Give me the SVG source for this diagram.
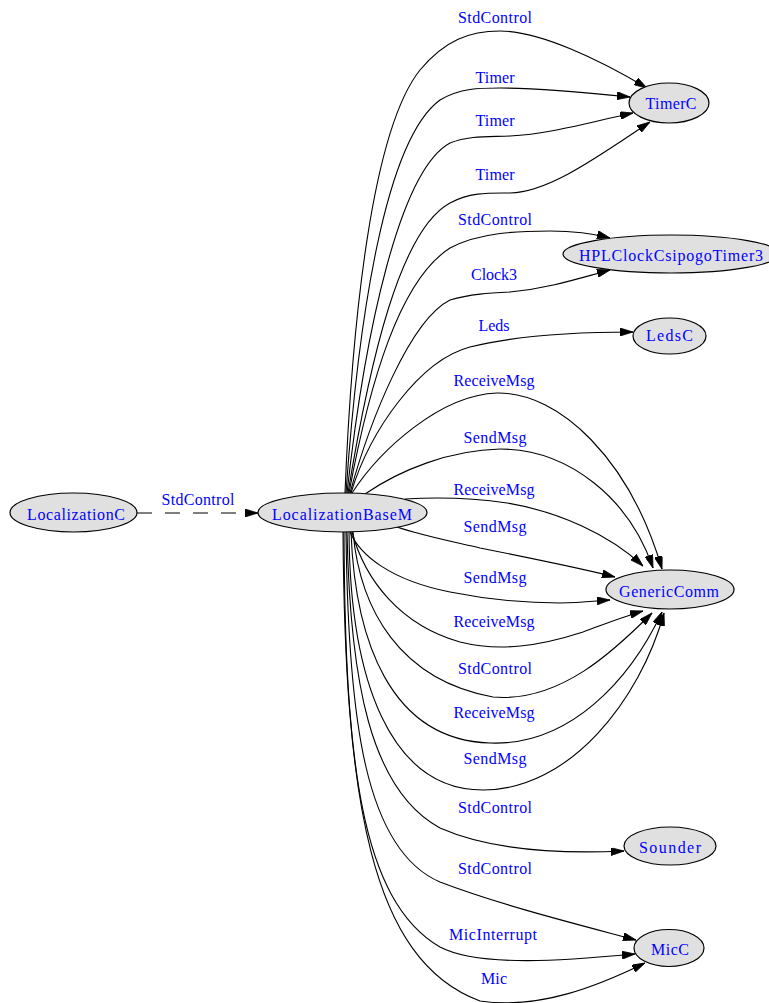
<svg xmlns="http://www.w3.org/2000/svg" width="769" height="1003" viewBox="0 0 769 1003">
  <style>
    .node ellipse { fill: #e0e0e0; stroke: #000; stroke-width: 1.2; }
    .node text, .lbl { font-family: "Liberation Serif", "Times New Roman", serif; font-size: 16px; fill: #0000ff; text-anchor: middle; }
    #edges path { fill: none; stroke: #000; stroke-width: 1.1; marker-end: url(#arr); }
    #edges path.dash { stroke-dasharray: 15 13; }
  </style>
  <defs>
    <marker id="arr" markerUnits="userSpaceOnUse" markerWidth="13" markerHeight="8" refX="13" refY="4" orient="auto">
      <path d="M0,0 L13,4 L0,8 z" fill="#000" stroke="#000" stroke-width="0.8"/>
    </marker>
  </defs>
  <rect width="769" height="1003" fill="#fff"/>

  <g id="edges">
    <path class="dash" d="M137,513 L258,513"/>
    <path d="M345,493 C352,320 372,130 420,70 C445,40 470,31 500,31 C540,31 600,60 647,88"/>
    <path d="M346,493 C358,320 385,140 440,100 C460,88 480,88 500,88 C540,88 590,93 630,97"/>
    <path d="M347,493 C365,330 400,170 450,143 C470,135 490,137 510,136 C550,134 590,122 633,113"/>
    <path d="M348,493 C370,360 400,230 450,203 C470,192 490,193 510,193 C550,192 600,155 650,122"/>
    <path d="M349,493 C370,380 400,280 450,248 C480,232 520,231 550,231 C575,231 595,234 610,238"/>
    <path d="M350,493 C370,420 410,320 450,300 C470,294 490,293 510,292 C550,288 580,278 610,270"/>
    <path d="M351,493 C370,430 420,360 470,347 C510,337 570,332 633,332"/>
    <path d="M352,493 C380,450 440,395 497,393 C560,392 630,460 662,569"/>
    <path d="M365,494 C400,470 450,450 500,449 C570,449 630,500 653,568"/>
    <path d="M405,499 C440,497 480,499 507,503 C560,512 610,535 643,566"/>
    <path d="M397,527 C420,535 450,541 480,548 C530,558 580,568 615,577"/>
    <path d="M350,532 C360,555 390,580 450,592 C490,600 530,603 560,603 C580,603 595,601 610,600"/>
    <path d="M352,532 C365,580 400,625 460,642 C500,652 540,646 583,632 C605,624 625,616 643,611"/>
    <path d="M353,532 C360,610 400,680 493,697 C560,703 615,650 652,613"/>
    <path d="M351,532 C355,640 390,740 490,743 C570,746 630,680 662,612"/>
    <path d="M349,532 C350,680 390,790 483,790 C570,790 640,700 664,613"/>
    <path d="M347,532 C350,680 370,790 440,828 C490,850 560,854 624,851"/>
    <path d="M346,532 C348,720 365,850 440,882 C500,905 580,925 636,940"/>
    <path d="M344,532 C345,760 360,900 440,947 C480,968 570,960 635,954"/>
    <path d="M343,532 C345,800 370,960 480,1001 C540,1010 600,985 645,963"/>
  </g>

  <g id="edge-labels">
    <text class="lbl" x="198" y="505" textLength="73">StdControl</text>
    <text class="lbl" x="495" y="23" textLength="74">StdControl</text>
    <text class="lbl" x="495" y="83" textLength="39">Timer</text>
    <text class="lbl" x="495" y="126" textLength="39">Timer</text>
    <text class="lbl" x="495" y="180" textLength="39">Timer</text>
    <text class="lbl" x="495" y="225" textLength="74">StdControl</text>
    <text class="lbl" x="494" y="280" textLength="46">Clock3</text>
    <text class="lbl" x="494" y="331" textLength="31">Leds</text>
    <text class="lbl" x="494" y="386" textLength="81">ReceiveMsg</text>
    <text class="lbl" x="495" y="443" textLength="63">SendMsg</text>
    <text class="lbl" x="494" y="495" textLength="81">ReceiveMsg</text>
    <text class="lbl" x="495" y="532" textLength="63">SendMsg</text>
    <text class="lbl" x="495" y="583" textLength="63">SendMsg</text>
    <text class="lbl" x="494" y="627" textLength="81">ReceiveMsg</text>
    <text class="lbl" x="495" y="674" textLength="74">StdControl</text>
    <text class="lbl" x="494" y="718" textLength="81">ReceiveMsg</text>
    <text class="lbl" x="495" y="764" textLength="63">SendMsg</text>
    <text class="lbl" x="495" y="813" textLength="74">StdControl</text>
    <text class="lbl" x="495" y="874" textLength="74">StdControl</text>
    <text class="lbl" x="493" y="940" textLength="88">MicInterrupt</text>
    <text class="lbl" x="494" y="984" textLength="26">Mic</text>
  </g>

  <g id="LocalizationC" class="node">
    <ellipse cx="73.5" cy="512.5" rx="63.5" ry="19.5"/>
    <text x="76" y="520" textLength="98">LocalizationC</text>
  </g>
  <g id="LocalizationBaseM" class="node">
    <ellipse cx="342.5" cy="512.5" rx="84.5" ry="19.5"/>
    <text x="342" y="520" textLength="140">LocalizationBaseM</text>
  </g>
  <g id="TimerC" class="node">
    <ellipse cx="669" cy="103" rx="40" ry="20"/>
    <text x="671" y="109" textLength="51">TimerC</text>
  </g>
  <g id="HPLClockCsipogoTimer3" class="node">
    <ellipse cx="671" cy="254" rx="108" ry="19"/>
    <text x="671" y="261" textLength="184">HPLClockCsipogoTimer3</text>
  </g>
  <g id="LedsC" class="node">
    <ellipse cx="669.5" cy="336" rx="36.5" ry="18"/>
    <text x="669.5" y="341" textLength="47">LedsC</text>
  </g>
  <g id="GenericComm" class="node">
    <ellipse cx="670" cy="589.5" rx="64" ry="19.5"/>
    <text x="669" y="597" textLength="100">GenericComm</text>
  </g>
  <g id="Sounder" class="node">
    <ellipse cx="670" cy="846" rx="46" ry="19"/>
    <text x="670" y="853" textLength="62">Sounder</text>
  </g>
  <g id="MicC" class="node">
    <ellipse cx="669" cy="948" rx="35" ry="18.5"/>
    <text x="670" y="955" textLength="38">MicC</text>
  </g>
</svg>
